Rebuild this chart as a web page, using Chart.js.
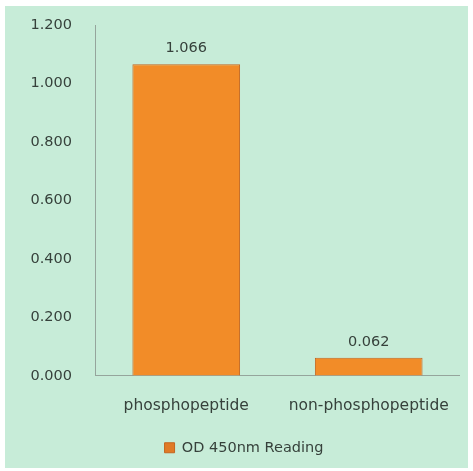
<!DOCTYPE html>
<html>
<head>
<meta charset="utf-8">
<script src="https://cdn.jsdelivr.net/npm/chart.js@4"></script>
<style>
  html, body { margin: 0; padding: 0; background: #fff; }
  #wrap { width: 473px; height: 471px; }
</style>
</head>
<body>
<div id="wrap"><canvas id="chart" width="473" height="471"></canvas></div>
<script>
// values
const categories = ['phosphopeptide', 'non-phosphopeptide'];
const odValues = [1.066, 0.062];
const seriesName = 'OD 450nm Reading';
const yTicks = [0, 0.2, 0.4, 0.6, 0.8, 1.0, 1.2];

const textColor = '#36413b';
const fontFamily = '"DejaVu Sans", "Open Sans", sans-serif';
const fontSize = 14.5;

// green panel behind everything
const panelBg = {
	id: 'panelBg',
	beforeDraw(chart) {
		const ctx = chart.ctx;
		ctx.save();
		ctx.fillStyle = '#ffffff';
		ctx.fillRect(0, 0, chart.width, chart.height);
		ctx.fillStyle = '#c7ecd8';
		ctx.fillRect(5, 6, 463, 462);
		ctx.restore();
	}
};

// legend sits a bit right of centre in the original
const legendShift = {
	id: 'legendShift',
	afterLayout(chart) {
		if (chart.legend) {
			chart.legend.left += 14;
			chart.legend.right += 14;
		}
	}
};

// value labels above bars
const valueLabels = {
	id: 'valueLabels',
	afterDatasetsDraw(chart) {
		const ctx = chart.ctx;
		const meta = chart.getDatasetMeta(0);
		ctx.save();
		ctx.fillStyle = textColor;
		ctx.font = fontSize + 'px ' + fontFamily;
		ctx.textAlign = 'center';
		ctx.textBaseline = 'middle';
		meta.data.forEach((bar, i) => {
			ctx.fillText(odValues[i].toFixed(3), bar.x, bar.y - 16);
		});
		ctx.restore();
	}
};

// shiny orange, lighter band at the top of each bar
function barFill(context) {
	const chart = context.chart;
	const bar = context.element;
	if (!chart.chartArea || !bar || bar.y === undefined) return '#f28c28';
	const h = Math.max(1, bar.base - bar.y);
	const g = chart.ctx.createLinearGradient(0, bar.y, 0, bar.base);
	const band = Math.min(0.35, 5 / h);
	g.addColorStop(0, '#fdd264');
	g.addColorStop(band * 0.5, '#fbb040');
	g.addColorStop(band, '#f8952f');
	g.addColorStop(1, '#e07a26');
	return g;
}

const ctx = document.getElementById('chart').getContext('2d');
const myChart = new Chart(ctx, {
	type: 'bar',
	data: {
		labels: categories,
		datasets: [{
			label: seriesName,
			data: odValues,
			backgroundColor: barFill,
			borderColor: '#c4651f',
			borderWidth: 1,
			categoryPercentage: 0.59,
			barPercentage: 1.0
		}]
	},
	options: {
		responsive: false,
		animation: false,
		layout: { padding: { top: 25, right: 13, bottom: 6, left: 0 } },
		scales: {
			x: {
				grid: { color: 'transparent', drawTicks: false },
				border: { display: true, color: '#95a59c' },
				ticks: { color: textColor, font: { family: fontFamily, size: 15.5 }, padding: 21 }
			},
			y: {
				min: 0,
				max: 1.2,
				afterBuildTicks(scale) {
					scale.ticks = yTicks.map(v => ({ value: v }));
				},
				afterFit(scale) {
					scale.width = 95;
					scale.paddingTop = 0;
					scale.paddingBottom = 0;
				},
				grid: { color: 'transparent', drawTicks: false },
				border: { display: true, color: '#95a59c' },
				ticks: {
					color: textColor,
					font: { family: fontFamily, size: fontSize },
					padding: 23,
					callback: v => Number(v).toFixed(3)
				}
			}
		},
		plugins: {
			legend: {
				position: 'bottom',
				labels: {
					color: textColor,
					font: { family: fontFamily, size: fontSize },
					boxWidth: 10,
					boxHeight: 10,
					padding: 4
				}
			},
			tooltip: { enabled: false }
		}
	},
	plugins: [panelBg, legendShift, valueLabels]
});
</script>
</body>
</html>
